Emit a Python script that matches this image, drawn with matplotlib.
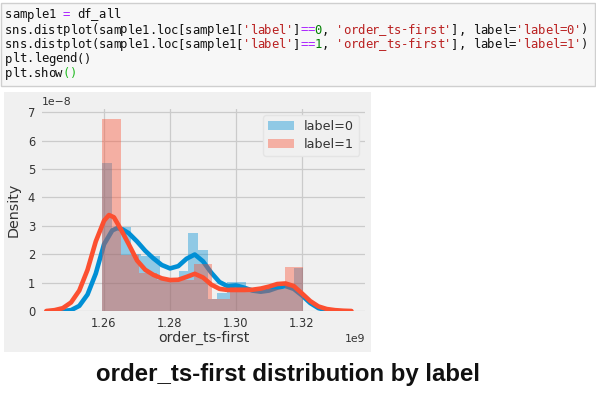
import matplotlib
matplotlib.use('Agg')
import matplotlib.pyplot as plt
import numpy as np
from matplotlib.patches import Rectangle

# ---------------- data (x in 1e9 s, density in 1e-8) ----------------
data_range = [1.2595, 1.3204]          # histogram span
blue_heights = [5.2, 2.9, 2.95, 2.0, 1.95, 1.95, 1.1, 1.1, 1.42, 2.74, 2.15,
                0.42, 0.62, 1.02, 1.02, 0.75, 0.72, 0.72, 0.8, 0.8, 1.52]
red_heights = [6.76, 1.97, 1.35, 1.1, 1.1, 1.65, 0.42, 0.85, 0.75, 0.78, 1.56]

blue_kde_x = [1.2475, 1.250, 1.2525, 1.255, 1.2575, 1.260, 1.2625, 1.264, 1.2655,
              1.2675, 1.270, 1.2725, 1.275, 1.2775, 1.280, 1.2825, 1.285, 1.2875,
              1.290, 1.2925, 1.295, 1.2975, 1.300, 1.3025, 1.305, 1.3075, 1.310,
              1.3125, 1.315, 1.3175, 1.320, 1.3225, 1.325, 1.3275, 1.330]
blue_kde_y = [0.0, 0.03, 0.18, 0.58, 1.32, 2.35, 2.84, 2.92, 2.88,
              2.74, 2.45, 2.12, 1.85, 1.62, 1.5, 1.58, 1.84, 1.99,
              1.75, 1.35, 1.02, 0.87, 0.9, 0.82, 0.72, 0.68, 0.72,
              0.82, 0.88, 0.78, 0.55, 0.28, 0.1, 0.03, 0.0]

red_kde_x = [1.2425, 1.245, 1.2475, 1.250, 1.2525, 1.255, 1.2575, 1.260, 1.2615,
             1.263, 1.265, 1.2675, 1.270, 1.2725, 1.275, 1.2775, 1.280, 1.2825,
             1.285, 1.2875, 1.290, 1.2925, 1.295, 1.2975, 1.300, 1.3025, 1.305,
             1.3075, 1.310, 1.3125, 1.315, 1.3175, 1.320, 1.3225, 1.325, 1.3275,
             1.330, 1.3325, 1.335]
red_kde_y = [0.0, 0.03, 0.1, 0.3, 0.72, 1.45, 2.45, 3.18, 3.38,
             3.3, 2.9, 2.35, 1.78, 1.45, 1.27, 1.15, 1.09, 1.1,
             1.2, 1.31, 1.18, 0.93, 0.78, 0.74, 0.74, 0.74, 0.75,
             0.79, 0.86, 0.95, 0.97, 0.88, 0.62, 0.35, 0.16, 0.07,
             0.03, 0.01, 0.0]

series_labels = ['label=0', 'label=1']
x_ticks = [1.26, 1.28, 1.30, 1.32]
y_ticks = [0, 1, 2, 3, 4, 5, 6, 7]
x_label = 'order_ts-first'
y_label = 'Density'
title = 'order_ts-first distribution by label'

code_lines = [
    [('sample1 ', 'k'), ('=', 'op'), (' df_all', 'k')],
    [('sns.distplot(sample1.loc[sample1[', 'k'), ("'label'", 'str'), (']', 'k'), ('==', 'op'),
     ('0', 'num'), (', ', 'k'), ("'order_ts-first'", 'str'), ('], label=', 'k'),
     ("'label=0'", 'str'), (')', 'k')],
    [('sns.distplot(sample1.loc[sample1[', 'k'), ("'label'", 'str'), (']', 'k'), ('==', 'op'),
     ('1', 'num'), (', ', 'k'), ("'order_ts-first'", 'str'), ('], label=', 'k'),
     ("'label=1'", 'str'), (')', 'k')],
    [('plt.legend()', 'k')],
    [('plt.show', 'k'), ('()', 'br')],
]
code_colors = {'k': '#111111', 'op': '#aa22ff', 'str': '#ba2121', 'num': '#008000', 'br': '#22bb22'}

# ---------------- figure ----------------
W, H = 596, 398
fig = plt.figure(figsize=(W / 100, H / 100), dpi=100, facecolor='white')


def fx(px):
    return px / W


def fy(py):
    return 1 - py / H


# code cell
fig.patches.append(Rectangle((fx(1), fy(86)), fx(594), (86 - 3) / H,
                             transform=fig.transFigure, facecolor='#f7f7f7',
                             edgecolor='#cfcfcf', lw=1.0, zorder=-2))
char_w = 7.2
line_y = [15, 30, 44.5, 59, 73.5]
for li, toks in enumerate(code_lines):
    col = 0
    for txt, kind in toks:
        for ch in txt:
            if ch != ' ':
                fig.text(fx(5 + col * char_w + char_w / 2), fy(line_y[li]), ch,
                         family='DejaVu Sans Mono', fontsize=8.8,
                         color=code_colors[kind], va='center', ha='center')
            col += 1

# chart image background
fig.patches.append(Rectangle((fx(4), fy(352)), fx(371) - fx(4), (352 - 92) / H,
                             transform=fig.transFigure, facecolor='#f0f0f0',
                             edgecolor='none', zorder=-2))

ax = fig.add_axes([fx(42), fy(311), (365 - 42) / W, (311 - 109.4) / H])
ax.set_facecolor('#f0f0f0')
for s in ax.spines.values():
    s.set_visible(False)
ax.grid(True, color='#cbcbcb', lw=0.9)
ax.set_axisbelow(True)

colors = ['#008fd5', '#fc4f30']
hists = [blue_heights, red_heights]
kdes = [(blue_kde_x, blue_kde_y), (red_kde_x, red_kde_y)]
for i in range(2):
    hts = np.array(hists[i]) * 1e-8
    edges = np.linspace(data_range[0], data_range[1], len(hts) + 1) * 1e9
    ax.bar(edges[:-1], hts, width=np.diff(edges), align='edge', color=colors[i],
           alpha=0.4, lw=0, label=series_labels[i], zorder=2)
    kx, ky = kdes[i]
    ax.plot(np.array(kx) * 1e9, np.array(ky) * 1e-8, color=colors[i], lw=3.3,
            solid_capstyle='round', solid_joinstyle='round', zorder=2)

ax.set_xlim(1.2412e9, 1.3391e9)
ax.set_ylim(0, 7.1e-8)
ax.set_xticks(np.array(x_ticks) * 1e9)
ax.set_yticks(np.array(y_ticks) * 1e-8)
ax.tick_params(axis='x', length=0, labelsize=8.3, labelcolor='#333333', pad=4)
ax.tick_params(axis='y', length=0, labelsize=8.3, labelcolor='#333333', pad=5)
ax.xaxis.get_offset_text().set_fontsize(7.8)
ax.xaxis.get_offset_text().set_color('#333333')
ax.yaxis.get_offset_text().set_fontsize(7.8)
ax.yaxis.get_offset_text().set_color('#333333')
ax.set_xlabel(x_label, fontsize=10.3, color='#333333', labelpad=1)
ax.set_ylabel(y_label, fontsize=10.3, color='#333333', labelpad=5)

leg = ax.legend(loc='upper right', fontsize=9.2, frameon=True, fancybox=True,
                borderaxespad=0.45, handlelength=2.0, labelspacing=0.35)
leg.get_frame().set_facecolor('#f0f0f0')
leg.get_frame().set_edgecolor('#e4e4e4')
leg.get_frame().set_alpha(1.0)
for t in leg.get_texts():
    t.set_color('#333333')

fig.text(fx(288), fy(375), title, family='Liberation Sans', fontweight='bold',
         fontsize=17.3, ha='center', va='center', color='#111111')

fig.savefig('out.png', dpi=100, facecolor='white')
